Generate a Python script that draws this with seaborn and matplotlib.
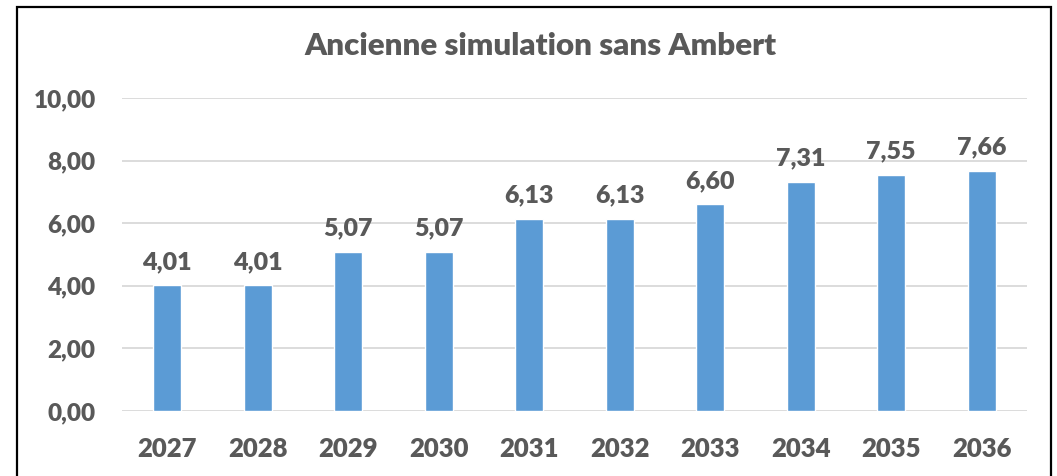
import pandas as pd
import matplotlib.pyplot as plt
import seaborn as sns
from matplotlib.patches import Rectangle

years = ['2027', '2028', '2029', '2030', '2031', '2032', '2033', '2034', '2035', '2036']
values = [4.01, 4.01, 5.07, 5.07, 6.13, 6.13, 6.60, 7.31, 7.55, 7.66]
yticks = [0, 2, 4, 6, 8, 10]

df = pd.DataFrame({'annee': years, 'valeur': values})

sns.set_style('white')
plt.rcParams['font.family'] = ['Lato', 'DejaVu Sans']
grey = '#595959'
wt = 'heavy'

fig = plt.figure(figsize=(10.57, 4.76), dpi=100)
ax = fig.add_axes([0.1154, 0.1366, 0.8562, 0.6576])

sns.barplot(data=df, x='annee', y='valeur', color='#5B9BD5', saturation=1,
            width=0.31, ax=ax)

ax.set_ylim(0, 10)
ax.set_yticks(yticks)
ax.set_yticklabels([f'{t:.2f}'.replace('.', ',') for t in yticks])
ax.yaxis.grid(True, color='#D9D9D9', linewidth=1.3)
ax.set_axisbelow(True)
for s in ax.spines.values():
    s.set_visible(False)
ax.tick_params(axis='y', length=0, labelsize=17.5, labelcolor=grey, pad=19)
ax.tick_params(axis='x', length=0, labelsize=18.5, labelcolor=grey, pad=19)
for lbl in ax.get_xticklabels() + ax.get_yticklabels():
    lbl.set_fontweight(wt)
ax.set_xlabel('')
ax.set_ylabel('')

for i, v in enumerate(values):
    ax.text(i, v + 0.4, f'{v:.2f}'.replace('.', ','), ha='center', va='bottom',
            fontsize=18, fontweight=wt, color=grey)

fig.text(0.511, 0.903, 'Ancienne simulation sans Ambert', ha='center', va='center',
         fontsize=22.5, fontweight=wt, color=grey)

fig.patches.append(Rectangle((17 / 1057, -0.02), 1034 / 1057, 1.005, transform=fig.transFigure,
                             fill=False, edgecolor='black', linewidth=1.6))

fig.savefig('out.png', dpi=100)
